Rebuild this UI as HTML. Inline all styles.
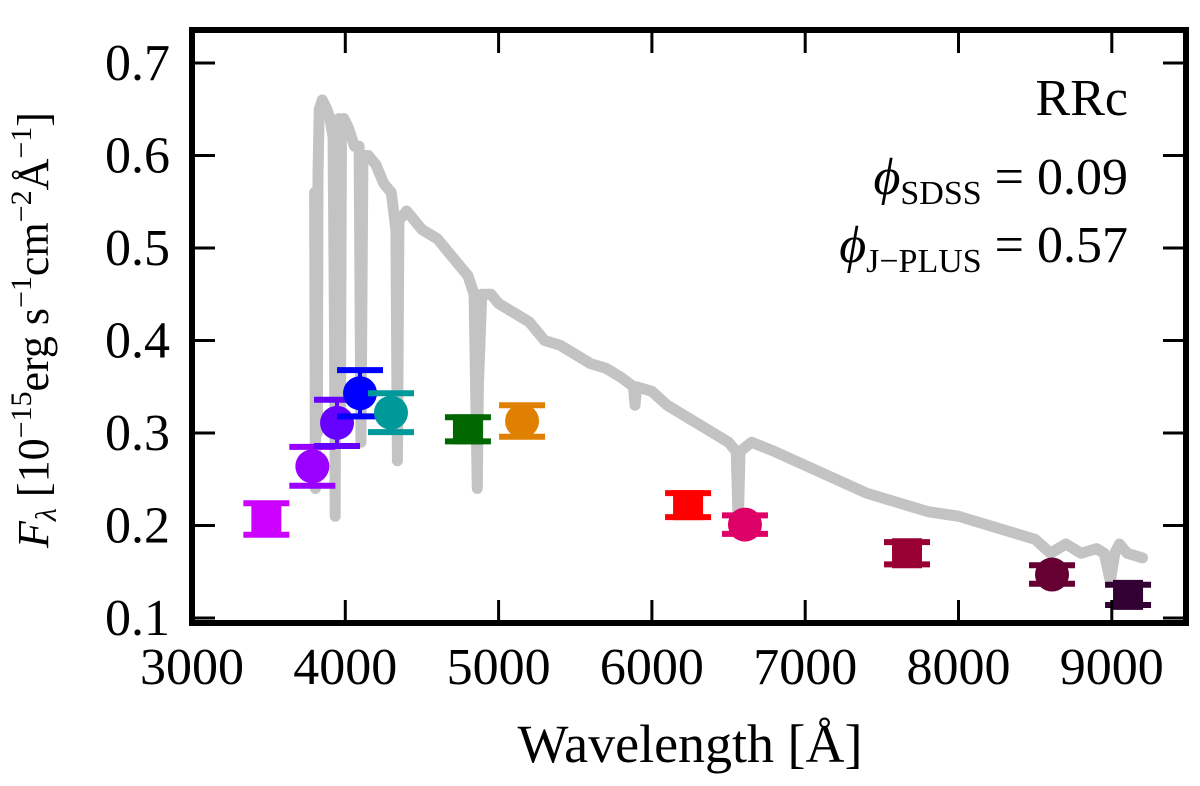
<!DOCTYPE html>
<html><head><meta charset="utf-8"><style>
body{margin:0;background:#fff;}
svg text{font-family:"Liberation Serif",serif;fill:#000;}
</style></head><body>
<svg id="chart" width="1200" height="781" viewBox="0 0 1200 781" xmlns="http://www.w3.org/2000/svg">
<g id="spec"></g>
<g id="pts"></g>
<rect x="192" y="30" width="994" height="593" fill="none" stroke="#000" stroke-width="6"/>
<g id="ticks"></g>
<g font-size="52" text-anchor="end">
<text x="1128" y="115">RRc</text>
<text x="1128" y="194"><tspan font-style="italic">ϕ</tspan><tspan font-size="34" dy="10">SDSS</tspan><tspan dy="-10"> = 0.09</tspan></text>
<text x="1128" y="262"><tspan font-style="italic">ϕ</tspan><tspan font-size="34" dy="10">J−PLUS</tspan><tspan dy="-10"> = 0.57</tspan></text>
</g>
<text x="690" y="762" font-size="54" text-anchor="middle">Wavelength [Å]</text>
<text transform="translate(48,330) rotate(-90)" font-size="44" text-anchor="middle"><tspan font-style="italic">F</tspan><tspan font-style="italic" font-size="30" dy="8">λ</tspan><tspan dy="-8"> [10</tspan><tspan font-size="30" dy="-17">−15</tspan><tspan dy="17">erg s</tspan><tspan font-size="30" dy="-17">−1</tspan><tspan dy="17">cm</tspan><tspan font-size="30" dy="-17">−2</tspan><tspan dy="17">Å</tspan><tspan font-size="30" dy="-17">−1</tspan><tspan dy="17">]</tspan></text>
</svg>
<script>
const xTicks=[3000,4000,5000,6000,7000,8000,9000];
const yTicks=[0.1,0.2,0.3,0.4,0.5,0.6,0.7];
const specWave=[3800,3805,3812,3818,3822,3830,3850,3880,3900,3920,3930,3934,3940,3960,3968,3975,3990,4020,4060,4090,4102,4115,4150,4200,4250,4300,4330,4340,4350,4400,4450,4500,4600,4700,4800,4840,4855,4861,4868,4890,4950,5000,5100,5200,5300,5400,5500,5600,5700,5800,5880,5890,5900,6000,6100,6200,6300,6400,6500,6550,6563,6575,6650,6800,7000,7200,7400,7600,7800,8000,8200,8400,8500,8600,8700,8800,8900,8950,8990,9020,9050,9100,9200];
const specFlux=[0.56,0.24,0.55,0.30,0.58,0.65,0.66,0.65,0.64,0.62,0.40,0.21,0.62,0.64,0.30,0.63,0.64,0.63,0.61,0.61,0.29,0.60,0.60,0.59,0.57,0.56,0.52,0.27,0.53,0.54,0.53,0.52,0.51,0.49,0.47,0.45,0.30,0.24,0.35,0.45,0.45,0.44,0.43,0.42,0.40,0.395,0.385,0.375,0.37,0.36,0.35,0.33,0.35,0.345,0.33,0.32,0.31,0.30,0.29,0.28,0.20,0.28,0.29,0.28,0.265,0.25,0.235,0.225,0.215,0.21,0.20,0.19,0.185,0.17,0.18,0.17,0.175,0.17,0.14,0.17,0.18,0.17,0.165];
const ptWave=[3485,3785,3946,4096,4298,4800,5153,6236,6607,7664,8610,9106];
const ptFlux=[0.207,0.264,0.311,0.343,0.322,0.304,0.313,0.222,0.201,0.170,0.147,0.125];
const ptErr=[0.017,0.021,0.025,0.025,0.021,0.013,0.017,0.013,0.010,0.012,0.010,0.011];
const ptColor=["#cc00ff","#9900ff","#6600ff","#0000ff","#009999","#006600","#e08000","#ff0000","#dd0066","#990033","#660033","#330033"];
const ptShape=["s","c","c","c","c","s","c","s","c","s","c","s"];
const X=w=>192+(w-3000)*0.1533;
const Y=f=>618-(f-0.1)*925;
const NS="http://www.w3.org/2000/svg";
function mk(t,a,p){const e=document.createElementNS(NS,t);for(const k in a)e.setAttribute(k,a[k]);p.appendChild(e);return e;}
const spec=document.getElementById('spec');
const pl=mk('polyline',{points:specWave.map((w,i)=>X(w)+','+Y(specFlux[i])).join(' '),fill:'none',stroke:'#c3c3c3','stroke-width':11,'stroke-linejoin':'round','stroke-linecap':'round'},spec);


const pts=document.getElementById('pts');
ptWave.forEach((w,i)=>{
  const g=mk('g',{fill:ptColor[i],stroke:ptColor[i]},pts);
  
  
  const x=X(w),y=Y(ptFlux[i]),t=Y(ptFlux[i]+ptErr[i]),b=Y(ptFlux[i]-ptErr[i]);
  mk('line',{x1:x,x2:x,y1:t,y2:b,'stroke-width':4},g);
  mk('line',{x1:x-23,x2:x+23,y1:t,y2:t,'stroke-width':6},g);
  mk('line',{x1:x-23,x2:x+23,y1:b,y2:b,'stroke-width':6},g);
  if(ptShape[i]=='c')mk('circle',{cx:x,cy:y,r:17,stroke:'none'},g);
  else mk('rect',{x:x-15,y:y-15,width:30,height:30,stroke:'none'},g);
});
const tk=document.getElementById('ticks');
xTicks.forEach(v=>{const x=X(v);
  mk('line',{x1:x,x2:x,y1:623,y2:600,stroke:'#000','stroke-width':3},tk);
  mk('line',{x1:x,x2:x,y1:30,y2:53,stroke:'#000','stroke-width':3},tk);
  const t=mk('text',{x:x,y:684,'font-size':52,'text-anchor':'middle'},tk);t.textContent=v;
  
  
});
yTicks.forEach(v=>{const y=Y(v);
  mk('line',{x1:192,x2:215,y1:y,y2:y,stroke:'#000','stroke-width':3},tk);
  mk('line',{x1:1186,x2:1163,y1:y,y2:y,stroke:'#000','stroke-width':3},tk);
  const t=mk('text',{x:170,y:y+17,'font-size':52,'text-anchor':'end'},tk);t.textContent=v.toFixed(1);
  
  
});
</script>
</body></html>
